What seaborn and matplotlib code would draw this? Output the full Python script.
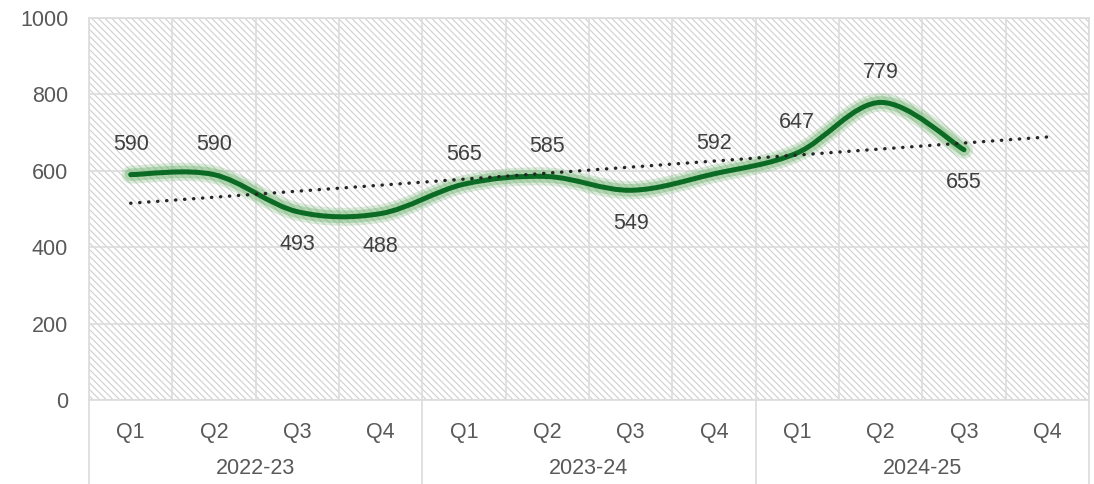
import numpy as np
import matplotlib
matplotlib.use("Agg")
import matplotlib.pyplot as plt
import matplotlib.patheffects as pe
from matplotlib.path import Path
from matplotlib.patches import PathPatch, Rectangle
import seaborn as sns

# data
quarters = ['Q1', 'Q2', 'Q3', 'Q4'] * 3
years = ['2022-23', '2023-24', '2024-25']
values = [590, 590, 493, 488, 565, 585, 549, 592, 647, 779, 655]
label_pos = ['above', 'above', 'below', 'below', 'above', 'above',
             'below', 'above', 'above', 'above', 'below']

sns.set_style("white")
plt.rcParams['font.family'] = ['Liberation Sans', 'DejaVu Sans']
plt.rcParams['hatch.linewidth'] = 0.8

txt = '#595959'
grid_c = '#dcdcdc'

fig = plt.figure(figsize=(10.94, 4.84), dpi=100)
ax = fig.add_axes([89 / 1094, 84 / 484, 1000 / 1094, 382 / 484])

n = len(quarters)
ax.set_xlim(-0.5, n - 0.5)
ax.set_ylim(0, 1000)

# hatched plot area
ax.add_patch(Rectangle((0, 0), 1, 1, transform=ax.transAxes, facecolor='white',
                       edgecolor='#cfcfcf', linewidth=0, hatch='\\\\\\\\\\', zorder=0.1))

# grid
ax.set_axisbelow(True)
ax.set_yticks(range(0, 1001, 200))
ax.set_xticks(range(n))
ax.set_xticks(np.arange(-0.5, n, 1), minor=True)
ax.grid(axis='y', color=grid_c, linewidth=1.2, zorder=0.5)
ax.grid(axis='x', which='minor', color=grid_c, linewidth=1.2, zorder=0.5)
for s in ax.spines.values():
    s.set_color(grid_c)
    s.set_linewidth(1.2)

ax.set_xticklabels(quarters)
ax.tick_params(axis='both', which='both', length=0, labelsize=15.5, labelcolor=txt)
ax.tick_params(axis='x', pad=16)
ax.tick_params(axis='y', pad=15)

# year labels and separators under the axis
trans = ax.get_xaxis_transform()
for i, yr in enumerate(years):
    ax.text(i * 4 + 1.5, -0.18, yr, transform=trans, ha='center', va='center',
            fontsize=15.5, color=txt)
for b in [-0.5, 3.5, 7.5, 11.5]:
    ax.plot([b, b], [0, -0.23], transform=trans, color=grid_c, lw=1.2, clip_on=False)

# smoothed series (bezier through the points)
x = np.arange(len(values), dtype=float)
y = np.array(values, dtype=float)
pts = np.column_stack([x, y])
verts = [pts[0]]
codes = [Path.MOVETO]
for i in range(len(pts) - 1):
    p0 = pts[i - 1] if i > 0 else pts[i]
    p1 = pts[i]
    p2 = pts[i + 1]
    p3 = pts[i + 2] if i + 2 < len(pts) else pts[i + 1]
    verts += [p1 + (p2 - p0) / 6, p2 - (p3 - p1) / 6, p2]
    codes += [Path.CURVE4] * 3
curve = PathPatch(Path(verts, codes), fill=False, edgecolor='#0b6b24', linewidth=3.6,
                  capstyle='round', joinstyle='round', zorder=3)
curve.set_path_effects([
    pe.Stroke(linewidth=13, foreground='#6fb56f', alpha=0.25),
    pe.Stroke(linewidth=9, foreground='#6fb56f', alpha=0.4),
    pe.Normal()])
ax.add_patch(curve)

# linear trend, one period forward
coef = np.polyfit(x, y, 1)
xt = np.arange(n)
sns.lineplot(x=xt, y=np.polyval(coef, xt), ax=ax, color='#262626', linewidth=2.4,
             linestyle=(0, (0.1, 2.6)), zorder=4)
ax.get_lines()[-1].set_dash_capstyle('round')

# data labels
for xi, v, pos in zip(x, values, label_pos):
    off = 30 if pos == 'above' else -33
    ax.annotate(str(v), (xi, v), xytext=(0, off), textcoords='offset pixels',
                ha='center', va='center', fontsize=15.5, color='#404040', zorder=5)

ax.set_xlabel('')
ax.set_ylabel('')
fig.savefig('out.png', dpi=100)
